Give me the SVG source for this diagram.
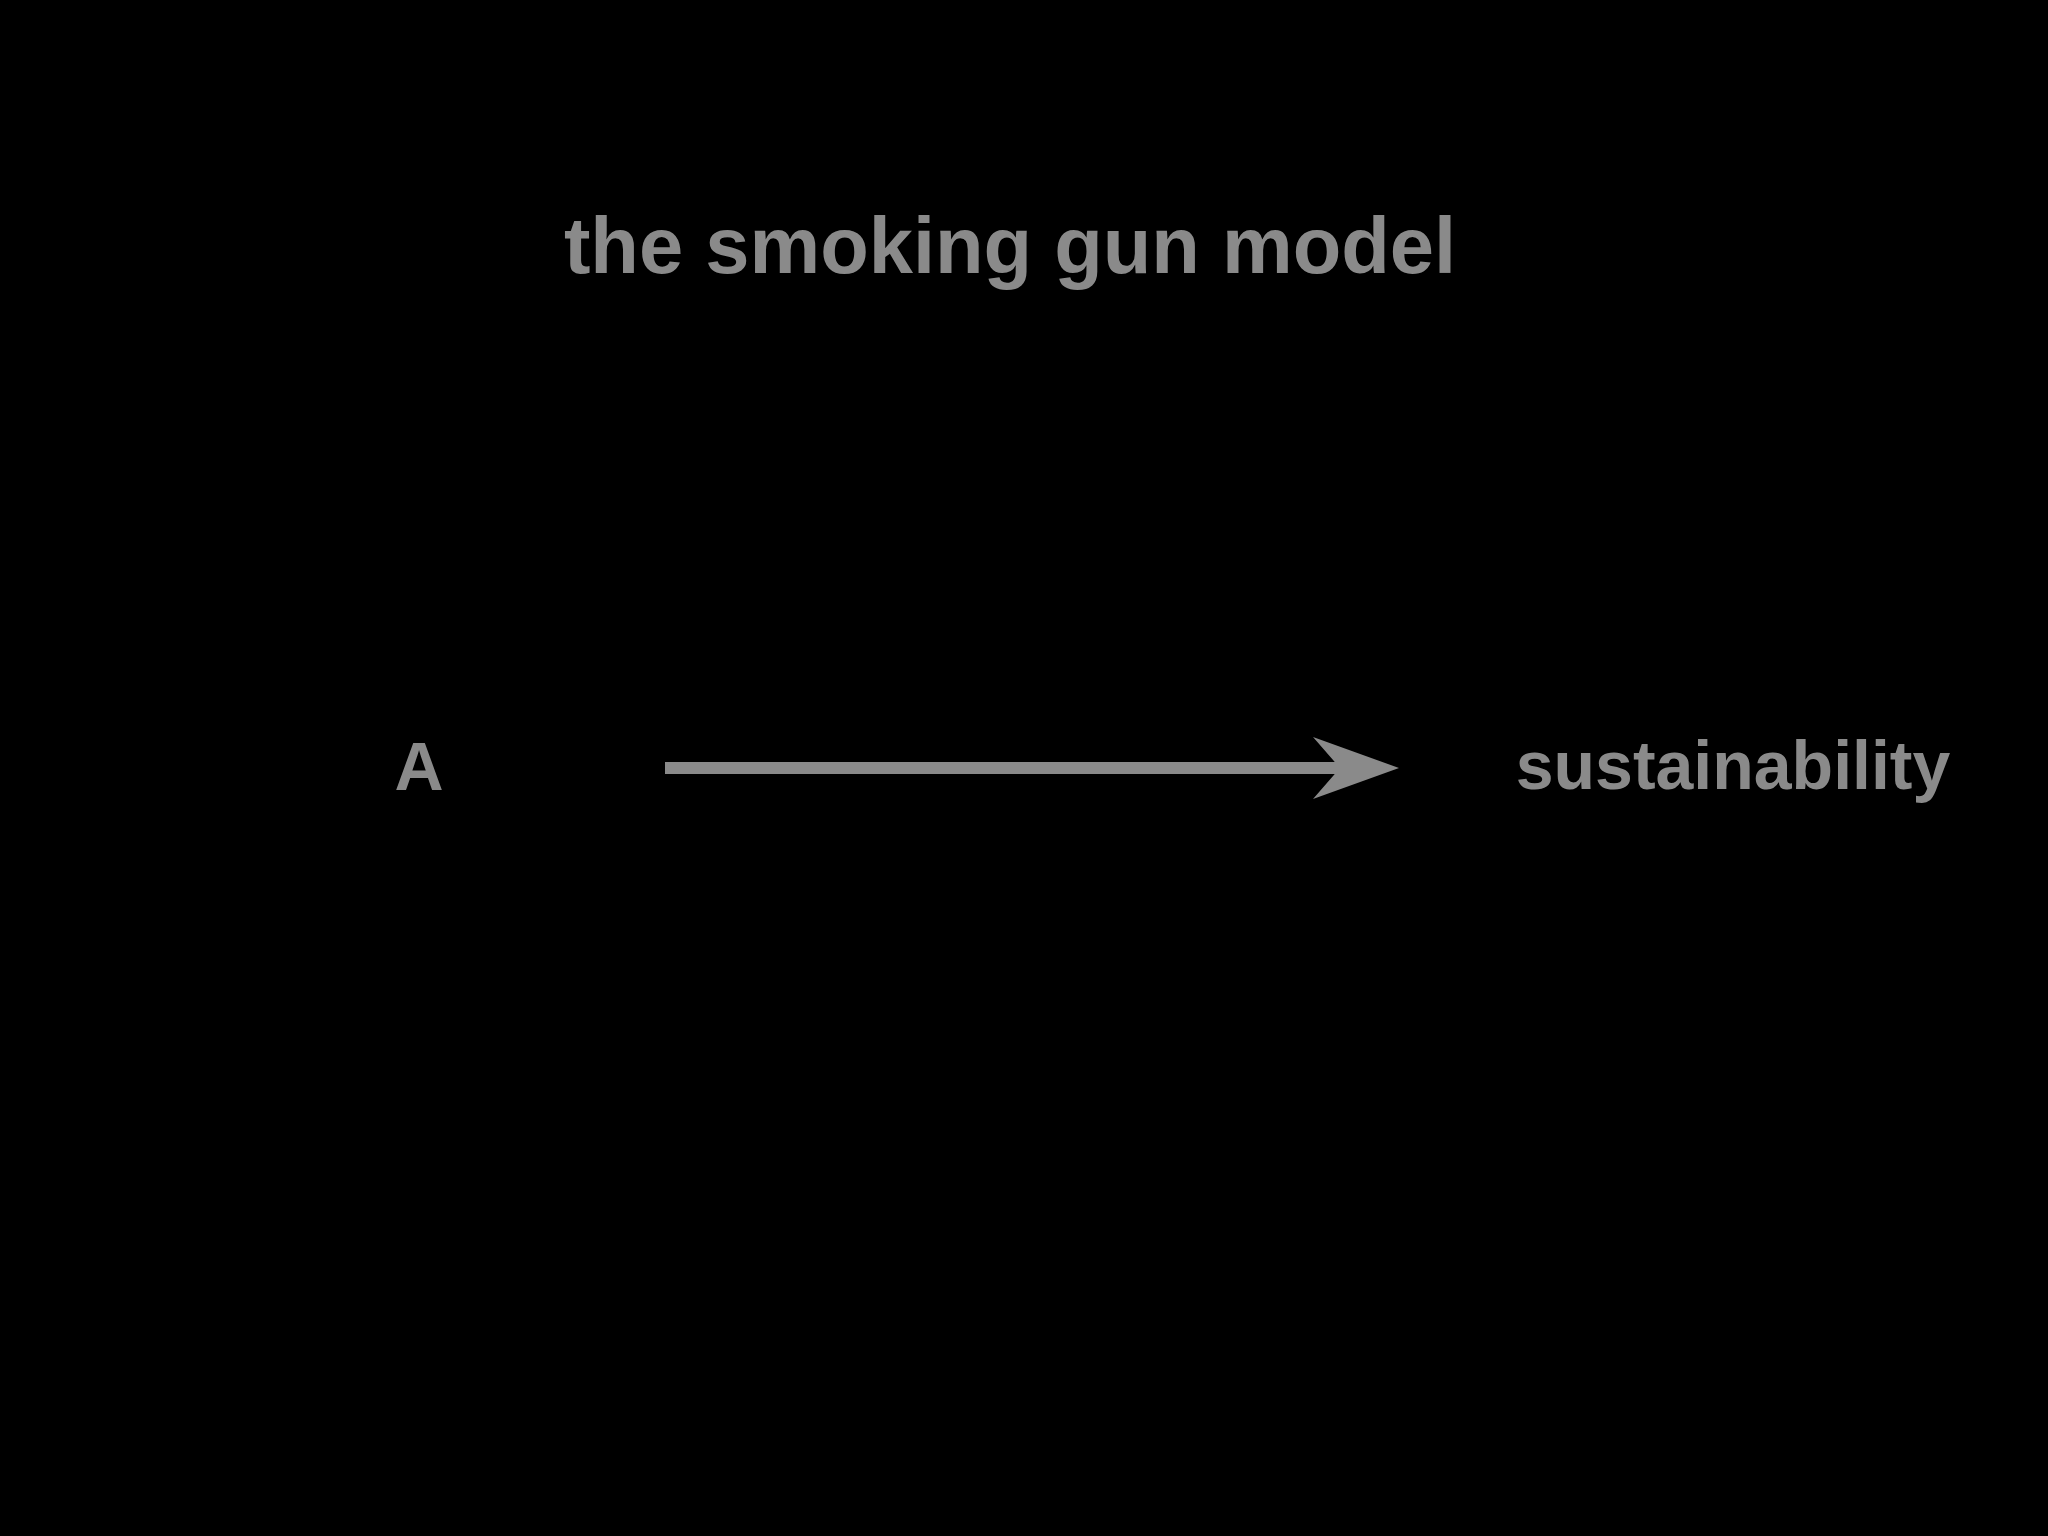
<svg xmlns="http://www.w3.org/2000/svg" width="2048" height="1536" viewBox="0 0 2048 1536">
<defs>
<style>
.lbl{font-family:"Liberation Sans",Arial,sans-serif;font-weight:bold;fill:#8a8a8a}
.conn{stroke:#8a8a8a;stroke-width:12;fill:none}
</style>
<marker id="head" markerUnits="userSpaceOnUse" markerWidth="86" markerHeight="62" viewBox="0 0 86 62" refX="27" refY="31" orient="auto">
<path d="M0,0 L86,31 L0,62 L27,31 Z" fill="#8a8a8a"/>
</marker>
</defs>
<rect width="2048" height="1536" fill="#000"/>
<g id="title"><text class="lbl" x="1010" y="273" font-size="79.5" text-anchor="middle">the smoking gun model</text></g>
<g id="node-a"><text class="lbl" x="419" y="790" font-size="68" text-anchor="middle">A</text></g>
<g id="node-sustainability"><text class="lbl" x="1733" y="789" font-size="68" text-anchor="middle">sustainability</text></g>
<g id="connectors"><line class="conn" x1="665" y1="768" x2="1340" y2="768" marker-end="url(#head)"/></g>
</svg>
